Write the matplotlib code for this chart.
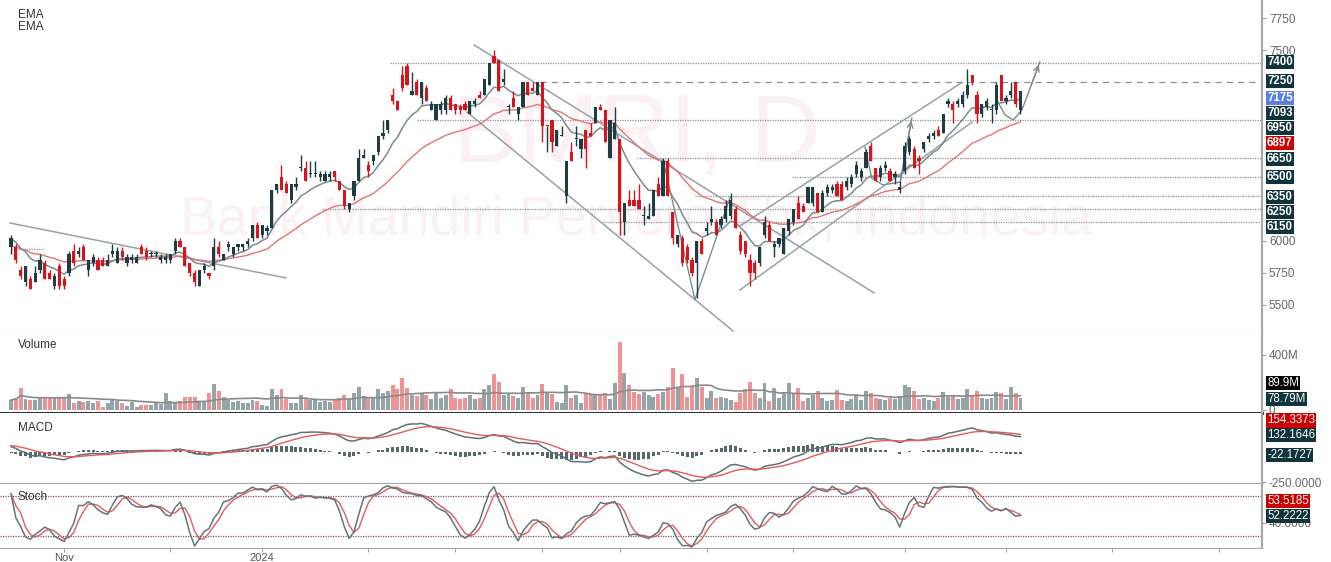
import numpy as np
import pandas as pd
import matplotlib
matplotlib.use("Agg")
import matplotlib.pyplot as plt

plt.rcParams['font.family'] = ['Liberation Sans', 'DejaVu Sans']

# daily bars, oldest first
opens = [5950,5950,5775,5675,5700,5675,5775,5825,5750,5650,
         5800,5700,5750,5925,5900,5950,5775,5825,5850,5850,
         5800,5900,5825,5925,5825,5850,5825,5950,5925,5900,
         5900,5850,5850,5850,5925,6000,5950,5825,5750,5650,
         5775,5750,5800,5950,5850,5950,5900,5950,5950,5975,
         6025,6125,6050,6075,6100,6400,6500,6450,6325,6425,
         6575,6575,6525,6525,6500,6475,6500,6550,6475,6400,
         6250,6350,6475,6650,6600,6625,6700,6825,6875,7150,
         7100,7300,7375,7150,7250,7125,7200,7025,6950,7025,
         7025,7125,7075,7050,7075,7000,7075,7150,7150,7225,
         7450,7425,7250,7050,7125,7000,7050,7250,7200,7150,
         7250,6900,6950,6750,6825,6350,6700,6800,6725,6875,
         6850,6925,7050,7025,6650,6800,6800,6150,6325,6325,
         6325,6200,6175,6200,6450,6350,6625,6225,5975,6025,
         5950,5850,5825,6000,6075,6150,6150,6125,6175,6200,
         6250,6050,6000,5850,5825,5825,6050,6125,5950,5975,
         5900,6075,6150,6300,6275,6300,6300,6375,6225,6375,
         6400,6450,6450,6425,6450,6525,6500,6575,6750,6575,
         6500,6575,6550,6500,6400,6550,6700,6725,6650,6725,
         6800,6825,6875,6850,7075,7075,7075,7075,7150,7300,
         7150,7000,7050,7025,7025,7300,7100,7150,7250,7025]
highs = [6050,5975,5800,5800,5725,5800,5900,5850,5775,5750,
         5825,5725,5925,5975,5950,5975,5850,5900,5875,5875,
         5900,5975,5950,5950,5900,5900,5900,5975,5950,5925,
         5925,5900,5900,5900,6025,6025,5950,5825,5775,5775,
         5825,5750,6025,6000,5900,6000,5950,5975,5975,6025,
         6125,6150,6125,6125,6400,6450,6600,6475,6450,6500,
         6675,6625,6625,6625,6550,6550,6550,6550,6475,6400,
         6300,6475,6725,6725,6625,6675,6825,6950,6950,7200,
         7100,7375,7400,7325,7275,7250,7225,7100,7075,7100,
         7150,7150,7075,7075,7100,7100,7125,7175,7275,7400,
         7500,7425,7350,7075,7175,7050,7250,7250,7250,7250,
         7250,6900,6950,6875,6900,6625,6775,6900,6800,6875,
         6925,7050,7075,7025,6950,7050,6800,6300,6400,6400,
         6450,6275,6300,6400,6500,6650,6650,6225,6050,6050,
         5975,5875,6000,6025,6150,6275,6175,6200,6325,6375,
         6275,6075,6000,5900,5850,5950,6200,6150,6000,6025,
         6100,6175,6250,6350,6300,6425,6425,6375,6400,6450,
         6450,6475,6475,6500,6525,6625,6575,6725,6775,6575,
         6600,6625,6575,6550,6475,6775,6825,6750,6675,6775,
         6850,6875,6900,7000,7125,7100,7125,7175,7350,7300,
         7175,7075,7125,7075,7250,7300,7150,7250,7250,7175]
lows = [5900,5825,5700,5650,5625,5675,5750,5700,5700,5625,
        5625,5625,5725,5800,5875,5850,5725,5800,5775,5800,
        5800,5875,5825,5850,5800,5825,5825,5900,5850,5875,
        5875,5825,5825,5825,5900,5950,5800,5725,5650,5650,
        5750,5700,5775,5875,5850,5925,5875,5925,5925,5950,
        6000,6025,6025,6050,6100,6375,6400,6375,6300,6400,
        6550,6475,6500,6500,6475,6475,6475,6475,6400,6250,
        6225,6325,6475,6650,6500,6600,6675,6800,6850,7075,
        7025,7175,7225,7150,7150,7075,7100,7025,6950,7000,
        7000,7025,7000,7000,7025,7000,7050,7125,7150,7225,
        7400,7175,7225,7000,7050,6950,7050,7150,7175,7150,
        6775,6700,6700,6750,6825,6300,6625,6750,6650,6575,
        6825,6925,7025,6775,6650,6800,6050,6050,6275,6275,
        6250,6125,6175,6200,6350,6350,6350,5975,5950,5800,
        5825,5725,5550,5900,6050,6125,6050,6100,6150,6175,
        6100,5900,5875,5650,5700,5800,6025,6000,5875,5950,
        5900,6050,6125,6175,6225,6300,6275,6225,6225,6350,
        6375,6350,6325,6400,6425,6500,6475,6575,6625,6475,
        6475,6550,6475,6450,6375,6525,6675,6575,6525,6700,
        6775,6800,6825,6850,7050,6925,7050,7050,7125,7225,
        6925,6975,7025,6925,7000,7100,7075,7125,7050,7000]
closes = [6025,5850,5725,5800,5625,5750,5850,5700,5700,5725,
          5650,5650,5900,5825,5925,5850,5850,5875,5775,5800,
          5850,5925,5925,5875,5875,5875,5875,5900,5875,5900,
          5900,5875,5875,5900,6000,5950,5800,5750,5675,5775,
          5800,5725,5950,5900,5900,5975,5950,5975,5975,6000,
          6125,6025,6125,6100,6400,6450,6400,6375,6450,6450,
          6575,6475,6525,6525,6525,6525,6525,6500,6400,6275,
          6300,6475,6650,6675,6550,6675,6825,6850,6950,7100,
          7025,7200,7225,7175,7150,7250,7100,7075,7075,7075,
          7125,7025,7025,7025,7025,7100,7100,7125,7275,7400,
          7400,7175,7275,7050,7050,7050,7250,7150,7175,7250,
          6900,6900,6775,6875,6825,6625,6625,6800,6800,6725,
          6825,7050,7025,6775,6950,6925,6225,6300,6275,6275,
          6250,6200,6200,6400,6350,6625,6350,6025,6050,5825,
          5850,5750,6000,5900,6100,6175,6050,6175,6275,6325,
          6100,5925,5900,5750,5750,5950,6150,6000,5975,6025,
          6100,6175,6250,6175,6225,6425,6425,6225,6375,6425,
          6425,6350,6325,6475,6500,6600,6550,6700,6625,6475,
          6575,6600,6475,6525,6425,6750,6800,6575,6625,6775,
          6825,6850,6825,7000,7100,7025,7100,7150,7225,7250,
          7000,7075,7100,7025,7225,7100,7125,7175,7075,7175]
volume_m = [73,85,157,78,73,73,90,85,85,85,
            97,85,116,53,65,60,65,53,65,19,
            53,78,65,48,29,60,19,36,36,36,
            60,44,121,68,60,68,97,97,97,68,
            65,121,189,140,97,73,60,65,48,53,
            73,68,36,31,150,109,150,78,53,48,
            109,90,75,70,60,65,55,70,90,110,
            80,120,170,100,90,95,150,120,140,180,
            150,230,160,110,100,120,110,80,120,90,
            110,150,90,80,90,110,80,90,150,180,
            260,200,110,120,100,90,170,120,90,110,
            190,120,116,60,48,182,85,109,48,121,
            116,116,116,126,77,194,496,271,182,133,
            116,133,109,97,116,133,165,307,157,259,
            97,165,235,165,85,140,85,97,85,73,
            60,121,150,201,121,85,194,65,157,85,
            121,194,121,157,68,85,109,140,85,65,
            73,145,73,65,80,110,70,140,120,90,
            80,70,90,80,100,180,170,140,80,90,
            70,65,85,130,95,110,80,85,150,110,
            140,90,80,85,130,120,80,165,120,90]

# axis ticks (bar index of month starts)
month_ticks = [11, 33, 52, 74, 92, 110, 126, 144, 162, 185, 206, 228, 250]
month_labels = ["Nov", "", "2024", "", "", "", "", "", "", "", "", "", ""]
price_ticks = [5500, 5750, 6000, 7500, 7750]

# horizontal levels drawn on the chart: price, first bar
level_prices = [7400, 7250, 6950, 6650, 6500, 6350, 6250, 6150]
level_start = [78.5, 109.5, 84, 129.6, 161.7, 141.6, 64.4, 122.6]

# trend lines: (bar, price) -> (bar, price)
trend_lines = [((-0.2, 6141), (56.9, 5710)),
               ((95.9, 7539), (178.7, 5592)),
               ((94.4, 7013), (149.5, 5293)),
               ((150.9, 5615), (199.0, 6935)),
               ((150.9, 6118), (196.7, 7241))]
zigzag = [(135.0, 6636), (141.6, 5537), (148.9, 6346)]
swing_path = [(176.8, 6738), (178.2, 6495), (180.5, 6440), (184.1, 6463), (186.5, 6966)]
target_path = [(204.1, 7107), (205.8, 6990), (207.5, 6950), (209.3, 7029), (211.0, 7202), (213.0, 7406)]

# right-hand price tags: text, drawn at, colour
tag_text = ["7400", "7250", "7175", "7093", "6950", "6897", "6650", "6500", "6350", "6250", "6150"]
tag_pos = [7406, 7257, 7123, 7005, 6887, 6770, 6644, 6503, 6346, 6228, 6110]
TEAL, BLUE, RED_T = "#0f343c", "#5b7fe3", "#cc0000"
tag_col = [TEAL, TEAL, BLUE, TEAL, TEAL, RED_T, TEAL, TEAL, TEAL, TEAL, TEAL]

UP, DN = "#1d3c43", "#d8141a"
VUP, VDN = "#93a5a9", "#ee9393"
GRAY_LINE = "#97a2a5"

o = np.array(opens, float)
h = np.array(highs, float)
l = np.array(lows, float)
c = np.array(closes, float)
v = np.array(volume_m, float)
n = len(c)
x = np.arange(n)
up = c >= o


def ema(vals, span, seed):
    a = 2.0 / (span + 1)
    out, prev = [], seed
    for val in vals:
        prev = prev + a * (val - prev)
        out.append(prev)
    return np.array(out)


ema_fast = ema(c, 10, 6020)
ema_slow = ema(c, 30, 5955)
macd = ema(c, 12, 5990) - ema(c, 26, 5945)
signal = ema(macd, 9, 55)
hist = macd - signal
hh = pd.Series(h).rolling(14, min_periods=1).max()
ll = pd.Series(l).rolling(14, min_periods=1).min()
k_raw = 100 * (pd.Series(c) - ll) / (hh - ll)
stoch_k = k_raw.rolling(3, min_periods=1).mean()
stoch_d = stoch_k.rolling(3, min_periods=1).mean()
vol_ma = pd.Series(v).rolling(20, min_periods=1).mean()

W, H = 1331, 562
fig = plt.figure(figsize=(W / 100, H / 100), dpi=100)


def panel(top, bottom):
    a = fig.add_axes([0, 1 - bottom / H, 1262 / W, (bottom - top) / H])
    a.set_xlim(-2.28, 259.0)
    for s in ["top", "left"]:
        a.spines[s].set_visible(False)
    a.spines["right"].set_color("#a9a9a9")
    a.spines["right"].set_linewidth(1.6)
    a.yaxis.tick_right()
    a.tick_params(axis="y", colors="#a0a0a0", labelcolor="#666666", labelsize=8.5, length=3, pad=2)
    a.tick_params(axis="x", bottom=False, labelbottom=False)
    return a


def tag(a, y, text, fc, bold=False):
    a.text(1.004, y, text, transform=a.get_yaxis_transform(), ha="left", va="center",
           fontsize=8.3, fontweight="bold" if bold else "normal", color="white",
           zorder=10, clip_on=False,
           bbox=dict(boxstyle="square,pad=0.1", fc=fc, ec="none"))


ax = panel(0, 332)
axv = panel(332, 413)
axm = panel(413, 484)
axs = panel(484, 548)

# ---- main panel ----
ax.set_ylim(5285, 7893)
ax.set_yticks(price_ticks)
ax.spines["bottom"].set_color("#a0a0a0")

ax.text(637 / W, 1 - 136 / H, "BMRI, D", transform=fig.transFigure, fontsize=70,
        color="#fbf1f4", ha="center", va="center", zorder=0)
ax.text(636 / W, 1 - 221 / H, "Bank Mandiri Persero Tbk, Indonesia", transform=fig.transFigure,
        fontsize=40, color="#fbf1f4", ha="center", va="center", zorder=0)

for p, s in zip(level_prices, level_start):
    ls = (0, (5, 4)) if p == 7250 else (0, (1, 1))
    ax.hlines(p, s, 259, colors="#8f8f8f", linestyles=ls, lw=0.9, zorder=1)
ax.hlines(5937, 0, 6.8, colors="#8f8f8f", linestyles=(0, (1, 1)), lw=0.9, zorder=1)

for (x0, y0), (x1, y1) in trend_lines:
    ax.plot([x0, x1], [y0, y1], color=GRAY_LINE, lw=1.1, zorder=1)
for path in [zigzag, swing_path, target_path]:
    px, py = zip(*path)
    ax.plot(px, py, color="#7f8c8f", lw=1.0, zorder=1)
for path in [swing_path, target_path]:
    ax.annotate("", xy=path[-1], xytext=path[-2],
                arrowprops=dict(arrowstyle="->", color="#7f8c8f", lw=1.0, mutation_scale=10))

ax.plot(x, ema_slow, color="#e57373", lw=1.0, zorder=2)
ax.plot(x, ema_fast, color="#7d8b8e", lw=1.1, zorder=2)

col = np.where(up, UP, DN)
ax.vlines(x, l, h, colors=col, lw=1.0, zorder=3)
body_lo = np.minimum(o, c)
body_h = np.maximum(np.abs(c - o), 8)
ax.bar(x, body_h, bottom=body_lo, width=0.66, color=col, linewidth=0, zorder=3)

for t, p, cc in zip(tag_text, tag_pos, tag_col):
    tag(ax, p, t, cc, bold=True)

fig.text(18 / W, 1 - 15 / H, "EMA", fontsize=8.5, color="#333333", va="center")
fig.text(18 / W, 1 - 27 / H, "EMA", fontsize=8.5, color="#333333", va="center")

# ---- volume ----
axv.set_ylim(-22, 567)
axv.bar(x, v, width=0.82, color=np.where(up, VUP, VDN), linewidth=0)
axv.plot(x, vol_ma, color="#8a8a8a", lw=1.2)
axv.set_yticks([0, 400])
axv.set_yticklabels(["0", "400M"])
axv.spines["bottom"].set_color("#333333")
axv.spines["bottom"].set_linewidth(2.2)
tag(axv, 196, "89.9M", "#000000")
tag(axv, 80, "78.79M", TEAL)
fig.text(18 / W, 1 - 345 / H, "Volume", fontsize=8.5, color="#333333", va="center")

# ---- MACD ----
axm.set_ylim(-266, 324)
axm.bar(x, hist, width=0.62, color="#55696d", linewidth=0)
axm.plot(x, macd, color="#5f7276", lw=1.1)
axm.plot(x, signal, color="#e35b5b", lw=1.0)
axm.set_yticks([-250])
axm.set_yticklabels(["-250.0000"])
axm.spines["bottom"].set_color("#a9a9a9")
axm.spines["bottom"].set_linewidth(1.6)
tag(axm, 262, "154.3373", RED_T)
tag(axm, 139, "132.1646", TEAL)
tag(axm, -25, "-22.1727", TEAL)
fig.text(18 / W, 1 - 428 / H, "MACD", fontsize=8.5, color="#333333", va="center")

# ---- Stochastic ----
axs.set_ylim(2, 98)
axs.axhline(80, color="#8a4a6c", lw=0.9, ls=(0, (1, 1)))
axs.axhline(20, color="#8a4a6c", lw=0.9, ls=(0, (1, 1)))
axs.plot(x, stoch_d, color="#e35b5b", lw=1.0)
axs.plot(x, stoch_k, color="#62767a", lw=1.1)
axs.set_yticks([40])
axs.set_yticklabels(["40.0000"])
axs.spines["bottom"].set_color("#a9a9a9")
axs.set_xticks(month_ticks)
axs.set_xticklabels(month_labels)
axs.tick_params(axis="x", bottom=True, labelbottom=True, colors="#a0a0a0",
                labelcolor="#555555", labelsize=8, length=3, pad=0.5)
tag(axs, 73, "53.5185", RED_T)
tag(axs, 50, "52.2222", TEAL)
fig.text(18 / W, 1 - 497 / H, "Stoch", fontsize=8.5, color="#333333", va="center")

fig.savefig("out.png", dpi=100, facecolor="white")
